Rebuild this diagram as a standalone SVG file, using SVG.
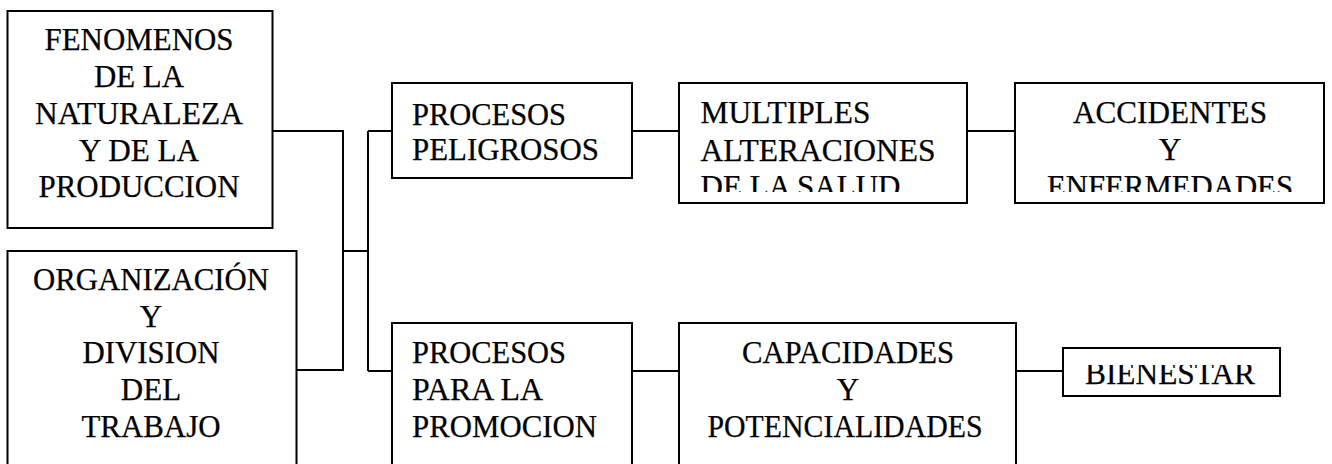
<svg xmlns="http://www.w3.org/2000/svg" width="1332" height="464" viewBox="0 0 1332 464">
<style>
.box{fill:#fff;stroke:#000;stroke-width:2}
.t{font-family:'Liberation Serif','Times New Roman',serif;font-size:31px;fill:#000;stroke:#000;stroke-width:0.25}
.c{text-anchor:middle}
.conn{fill:none;stroke:#000;stroke-width:2}
</style>
<defs>
<clipPath id="clipM"><rect x="679" y="83" width="288" height="109"/></clipPath>
<clipPath id="clipA"><rect x="1015" y="83" width="309" height="109"/></clipPath>
<clipPath id="clipB"><rect x="1063" y="365" width="217" height="31"/></clipPath>
</defs>
<rect width="1332" height="464" fill="#fff"/>
<g id="connectors">
<path class="conn" d="M272 131H343V370H296M343 251H368M368 131V371M368 131H392M368 371H392M632 131H679M967 131H1015M632 371H679M1016 371H1063"/>
</g>
<g id="n1">
<rect class="box" x="7.5" y="11" width="265" height="217"/>
<text class="t c" x="139" y="50" textLength="189" lengthAdjust="spacingAndGlyphs">FENOMENOS</text>
<text class="t c" x="139" y="87" textLength="90" lengthAdjust="spacingAndGlyphs">DE LA</text>
<text class="t c" x="139" y="124" textLength="208" lengthAdjust="spacingAndGlyphs">NATURALEZA</text>
<text class="t c" x="139" y="160.5" textLength="120" lengthAdjust="spacingAndGlyphs">Y DE LA</text>
<text class="t c" x="139" y="197" textLength="201" lengthAdjust="spacingAndGlyphs">PRODUCCION</text>
</g>
<g id="n2">
<rect class="box" x="7.5" y="251" width="289" height="240"/>
<text class="t c" x="151" y="290" textLength="236" lengthAdjust="spacingAndGlyphs">ORGANIZACIÓN</text>
<text class="t c" x="151" y="326.7">Y</text>
<text class="t c" x="151" y="363.3" textLength="137" lengthAdjust="spacingAndGlyphs">DIVISION</text>
<text class="t c" x="151" y="400">DEL</text>
<text class="t c" x="151" y="436.7" textLength="139" lengthAdjust="spacingAndGlyphs">TRABAJO</text>
</g>
<g id="n3">
<rect class="box" x="392" y="83" width="240" height="95"/>
<text class="t" x="412" y="125" textLength="154" lengthAdjust="spacingAndGlyphs">PROCESOS</text>
<text class="t" x="412" y="160" textLength="187" lengthAdjust="spacingAndGlyphs">PELIGROSOS</text>
</g>
<g id="n4">
<rect class="box" x="679" y="83" width="288" height="120"/>
<g clip-path="url(#clipM)">
<text class="t" x="700.5" y="123" textLength="170" lengthAdjust="spacingAndGlyphs">MULTIPLES</text>
<text class="t" x="700.5" y="161" textLength="235" lengthAdjust="spacingAndGlyphs">ALTERACIONES</text>
<text class="t" x="700.5" y="197" textLength="200" lengthAdjust="spacingAndGlyphs">DE LA SALUD</text>
</g>
</g>
<g id="n5">
<rect class="box" x="1015" y="83" width="309" height="120"/>
<g clip-path="url(#clipA)">
<text class="t c" x="1170" y="123" textLength="194" lengthAdjust="spacingAndGlyphs">ACCIDENTES</text>
<text class="t c" x="1170" y="160">Y</text>
<text class="t c" x="1170" y="197" textLength="246" lengthAdjust="spacingAndGlyphs">ENFERMEDADES</text>
</g>
</g>
<g id="n6">
<rect class="box" x="392" y="323" width="240" height="160"/>
<text class="t" x="412" y="363" textLength="154" lengthAdjust="spacingAndGlyphs">PROCESOS</text>
<text class="t" x="412" y="400" textLength="131" lengthAdjust="spacingAndGlyphs">PARA LA</text>
<text class="t" x="412" y="437" textLength="185" lengthAdjust="spacingAndGlyphs">PROMOCION</text>
</g>
<g id="n7">
<rect class="box" x="679" y="323" width="337" height="160"/>
<text class="t c" x="848" y="363" textLength="212" lengthAdjust="spacingAndGlyphs">CAPACIDADES</text>
<text class="t c" x="848" y="400">Y</text>
<text class="t c" x="845" y="437" textLength="275" lengthAdjust="spacingAndGlyphs">POTENCIALIDADES</text>
</g>
<g id="n8">
<rect class="box" x="1063" y="348" width="217" height="48"/>
<g clip-path="url(#clipB)">
<text class="t c" x="1170" y="384" textLength="170" lengthAdjust="spacingAndGlyphs">BIENESTAR</text>
</g>
</g>
</svg>
